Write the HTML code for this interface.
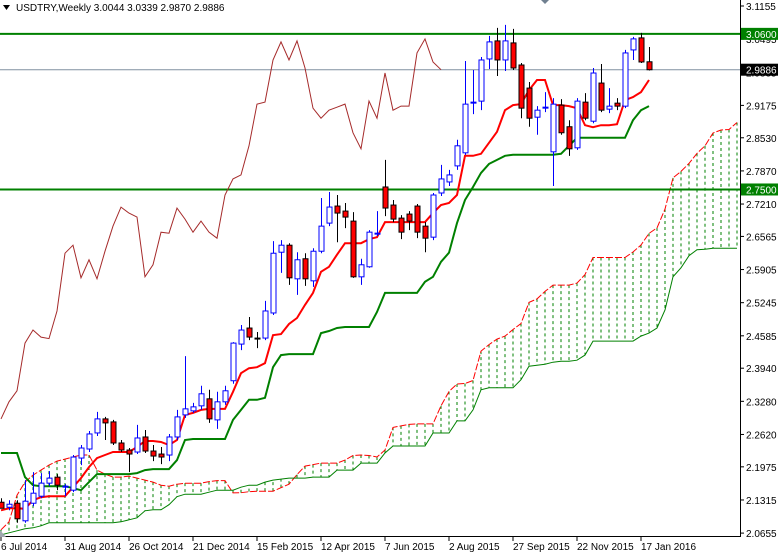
<!DOCTYPE html>
<html><head><meta charset="utf-8">
<style>
html,body{margin:0;padding:0;background:#fff;}
svg{display:block;font-family:"Liberation Sans",sans-serif;}
</style></head>
<body>
<svg id="chart" width="778" height="554" viewBox="0 0 778 554" xmlns="http://www.w3.org/2000/svg">
<rect x="0" y="0" width="778" height="554" fill="#ffffff"/>
<defs><clipPath id="plotClip"><rect x="0" y="0" width="740" height="536"/></clipPath></defs>
<g id="plot" clip-path="url(#plotClip)"></g>
<g id="axes"></g>
<text x="16" y="11" font-size="10" fill="#000">USDTRY,Weekly  3.0044 3.0339 2.9870 2.9886</text>
<polygon points="3,5 10,5 6.5,10" fill="#000"/>
<polygon points="541,0 549,0 545,4" fill="#708090"/>
</svg>
<script>
const opens=[2.127,2.117,2.125,2.090,2.125,2.139,2.165,2.177,2.157,2.151,2.215,2.233,2.265,2.293,2.287,2.245,2.231,2.227,2.257,2.229,2.223,2.221,2.257,2.301,2.309,2.319,2.333,2.291,2.327,2.369,2.442,2.474,2.454,2.454,2.504,2.625,2.639,2.572,2.612,2.568,2.627,2.683,2.717,2.707,2.687,2.576,2.596,2.661,2.755,2.719,2.693,2.701,2.717,2.677,2.655,2.743,2.765,2.797,2.823,2.922,2.926,3.010,3.046,3.008,3.042,2.998,2.952,2.894,2.912,2.825,2.918,2.875,2.833,2.924,2.886,2.962,2.910,2.922,2.916,3.028,3.052,3.0044];
const highs=[2.135,2.131,2.131,2.171,2.187,2.185,2.189,2.183,2.163,2.221,2.241,2.269,2.307,2.297,2.291,2.251,2.235,2.281,2.271,2.241,2.237,2.263,2.311,2.418,2.325,2.359,2.351,2.347,2.359,2.446,2.480,2.496,2.466,2.528,2.647,2.649,2.643,2.625,2.623,2.633,2.733,2.745,2.739,2.723,2.705,2.612,2.669,2.707,2.809,2.729,2.699,2.707,2.721,2.685,2.743,2.799,2.789,2.849,3.006,2.988,3.014,3.056,3.072,3.078,3.070,3.002,2.964,2.916,2.944,2.932,2.930,2.888,2.932,2.942,2.992,3.000,2.952,2.932,3.028,3.054,3.062,3.0339];
const lows=[2.119,2.111,2.086,2.086,2.119,2.135,2.159,2.151,2.139,2.147,2.201,2.227,2.259,2.251,2.241,2.227,2.187,2.223,2.225,2.209,2.203,2.209,2.251,2.295,2.305,2.311,2.285,2.273,2.321,2.363,2.430,2.450,2.434,2.450,2.500,2.584,2.560,2.540,2.558,2.556,2.623,2.677,2.645,2.673,2.574,2.560,2.594,2.657,2.697,2.685,2.651,2.669,2.653,2.625,2.649,2.737,2.757,2.789,2.819,2.900,2.908,2.990,2.976,2.986,2.988,2.892,2.875,2.859,2.904,2.757,2.859,2.817,2.829,2.888,2.882,2.904,2.902,2.908,2.912,3.008,3.002,2.9870];
const closes=[2.115,2.123,2.094,2.129,2.145,2.165,2.175,2.161,2.159,2.217,2.235,2.263,2.293,2.285,2.245,2.231,2.223,2.255,2.229,2.219,2.217,2.257,2.297,2.313,2.317,2.343,2.293,2.327,2.349,2.444,2.470,2.456,2.453,2.508,2.623,2.639,2.574,2.610,2.572,2.627,2.677,2.715,2.703,2.695,2.576,2.600,2.665,2.663,2.713,2.691,2.665,2.687,2.665,2.653,2.739,2.771,2.779,2.837,2.920,2.924,3.008,3.044,3.008,3.046,2.992,2.912,2.892,2.908,2.914,2.920,2.863,2.831,2.926,2.892,2.982,2.908,2.916,2.916,3.022,3.050,3.004,2.9886];
const tenkan=[2.111,2.115,2.115,2.114,2.131,2.137,2.139,2.139,2.139,2.157,2.175,2.197,2.215,2.221,2.227,2.227,2.227,2.237,2.249,2.249,2.247,2.241,2.251,2.301,2.305,2.311,2.313,2.313,2.313,2.347,2.384,2.394,2.396,2.404,2.460,2.462,2.482,2.494,2.520,2.544,2.586,2.596,2.620,2.643,2.643,2.643,2.651,2.655,2.685,2.685,2.685,2.685,2.685,2.685,2.703,2.719,2.723,2.739,2.817,2.817,2.821,2.843,2.865,2.908,2.918,2.920,2.948,2.968,2.968,2.918,2.918,2.916,2.912,2.878,2.874,2.878,2.878,2.880,2.928,2.934,2.944,2.968];
const kijun=[2.225,2.225,2.225,2.177,2.161,2.159,2.159,2.159,2.159,2.155,2.151,2.167,2.183,2.183,2.183,2.183,2.183,2.185,2.191,2.193,2.193,2.193,2.211,2.251,2.253,2.253,2.253,2.253,2.253,2.291,2.311,2.331,2.331,2.335,2.396,2.420,2.422,2.422,2.422,2.422,2.464,2.468,2.474,2.476,2.476,2.476,2.476,2.506,2.544,2.544,2.544,2.544,2.544,2.566,2.576,2.606,2.624,2.683,2.729,2.755,2.783,2.801,2.809,2.817,2.819,2.819,2.819,2.819,2.819,2.819,2.821,2.837,2.853,2.853,2.853,2.853,2.853,2.853,2.853,2.888,2.908,2.916];
const spanAHistory=[2.072,2.088,2.141,2.167,2.181,2.191,2.201,2.209,2.213,2.217,2.221,2.221,2.191,2.183,2.177,2.177,2.179,2.175,2.171,2.167,2.161,2.159,2.163,2.165,2.165,2.165];
const spanB=[2.062,2.066,2.070,2.074,2.076,2.080,2.086,2.086,2.086,2.086,2.086,2.086,2.086,2.086,2.086,2.088,2.092,2.096,2.110,2.112,2.112,2.122,2.138,2.143,2.143,2.143,2.147,2.151,2.151,2.151,2.157,2.161,2.161,2.167,2.171,2.173,2.175,2.175,2.175,2.177,2.177,2.177,2.191,2.191,2.191,2.205,2.205,2.205,2.225,2.239,2.239,2.239,2.239,2.239,2.265,2.265,2.265,2.289,2.289,2.311,2.351,2.355,2.355,2.355,2.355,2.371,2.398,2.400,2.402,2.406,2.408,2.408,2.410,2.420,2.448,2.448,2.448,2.448,2.448,2.448,2.458,2.464,2.474,2.510,2.576,2.594,2.618,2.630,2.631,2.633,2.633,2.633,2.633];
const priceTicks=[3.1155,3.0495,2.9835,2.9175,2.8530,2.7870,2.7210,2.6565,2.5905,2.5245,2.4585,2.3940,2.3280,2.2620,2.1975,2.1315,2.0655];
const dateLabels=["6 Jul 2014","31 Aug 2014","26 Oct 2014","21 Dec 2014","15 Feb 2015","12 Apr 2015","7 Jun 2015","2 Aug 2015","27 Sep 2015","22 Nov 2015","17 Jan 2016"];
const dateIndex=[0,8,16,24,32,40,48,56,64,72,80];
const levelLines=[3.0600,2.7500];
const lastPrice=2.9886;

const NS="http://www.w3.org/2000/svg";
const plot=document.getElementById('plot');
const axes=document.getElementById('axes');
const yS=p=>6+(3.1155-p)*502;
const xS=i=>1+8*i;
function mk(tag,attrs,parent){const e=document.createElementNS(NS,tag);for(const k in attrs)e.setAttribute(k,attrs[k]);parent.appendChild(e);return e;}
function pathOf(vals,offset){let d='';vals.forEach((v,i)=>{d+=(i?'L':'M')+xS(i+offset).toFixed(1)+','+yS(v).toFixed(1);});return d;}

const spanA=spanAHistory.slice();
for(let i=0;i<tenkan.length;i++)spanA.push((tenkan[i]+kijun[i])/2);
const nCloud=Math.min(spanA.length,spanB.length);

for(let j=0;j<nCloud;j++){
  const l=mk('line',{x1:xS(j),x2:xS(j),y1:yS(spanA[j]),y2:yS(spanB[j]),stroke:'#008000','stroke-width':1,'stroke-dasharray':'3,3'},plot);
  
  
}
const sa=mk('path',{d:pathOf(spanA.slice(0,nCloud),0),fill:'none',stroke:'#ff0000','stroke-width':1,'stroke-dasharray':'7,2'},plot);


const sb=mk('path',{d:pathOf(spanB.slice(0,nCloud),0),fill:'none',stroke:'#008000','stroke-width':1},plot);



levelLines.forEach(v=>{
  const l=mk('line',{x1:0,x2:740,y1:yS(v),y2:yS(v),stroke:'#008000','stroke-width':2},plot);
  
  
});
const bl=mk('line',{x1:0,x2:740,y1:yS(lastPrice),y2:yS(lastPrice),stroke:'#8090a0','stroke-width':1},plot);



const chikou=closes.slice(26);
const ch=mk('path',{d:pathOf(chikou,0),fill:'none',stroke:'#a52a2a','stroke-width':1},plot);



const kj=mk('path',{d:pathOf(kijun,0),fill:'none',stroke:'#008000','stroke-width':2},plot);


const tk=mk('path',{d:pathOf(tenkan,0),fill:'none',stroke:'#ff0000','stroke-width':2},plot);



for(let i=0;i<closes.length;i++){
  const x=xS(i),o=opens[i],c=closes[i],up=c>o;
  const g=mk('g',{},plot);
  
  
  const col=up?'#0000ff':'#000000';
  mk('line',{x1:x+0.5,x2:x+0.5,y1:yS(highs[i]),y2:yS(lows[i]),stroke:col,'stroke-width':1},g);
  const top=yS(Math.max(o,c)),bot=yS(Math.min(o,c));
  const h=Math.max(bot-top,1);
  mk('rect',{x:x-2,y:top,width:5,height:h,fill:up?'#ffffff':'#ff0000',stroke:col,'stroke-width':1},g);
}

const ax=mk('line',{x1:740.5,x2:740.5,y1:0,y2:537,stroke:'#000','stroke-width':1},axes);


const bx=mk('line',{x1:0,x2:741,y1:536.5,y2:536.5,stroke:'#000','stroke-width':1},axes);


priceTicks.forEach(v=>{
  const y=yS(v);
  mk('line',{x1:740,x2:744,y1:y,y2:y,stroke:'#000'},axes);
  const t=mk('text',{x:746,y:y+4,'font-size':10,fill:'#000'},axes);
  
  
  t.textContent=v.toFixed(4);
});
dateIndex.forEach((idx,k)=>{
  const x=xS(idx);
  mk('line',{x1:x,x2:x,y1:536,y2:541,stroke:'#000'},axes);
  const t=mk('text',{x:x,y:550,'font-size':10,fill:'#000'},axes);
  
  
  t.textContent=dateLabels[k];
});
function tag(v,bg,fg,name){
  const y=yS(v);
  const r=mk('rect',{x:741,y:y-6,width:37,height:12,fill:bg},axes);
  
  
  const t=mk('text',{x:746,y:y+4,'font-size':10,fill:fg},axes);
  
  
  t.textContent=v.toFixed(4);
}
tag(levelLines[0],'#008000','#ffffff','level-3060-tag');
tag(levelLines[1],'#008000','#ffffff','level-2750-tag');
tag(lastPrice,'#000000','#ffffff','last-price-tag');
mk('polygon',{points:'0,530 6,537 0,537',fill:'#a0a8b0'},axes);
</script>
</body></html>
